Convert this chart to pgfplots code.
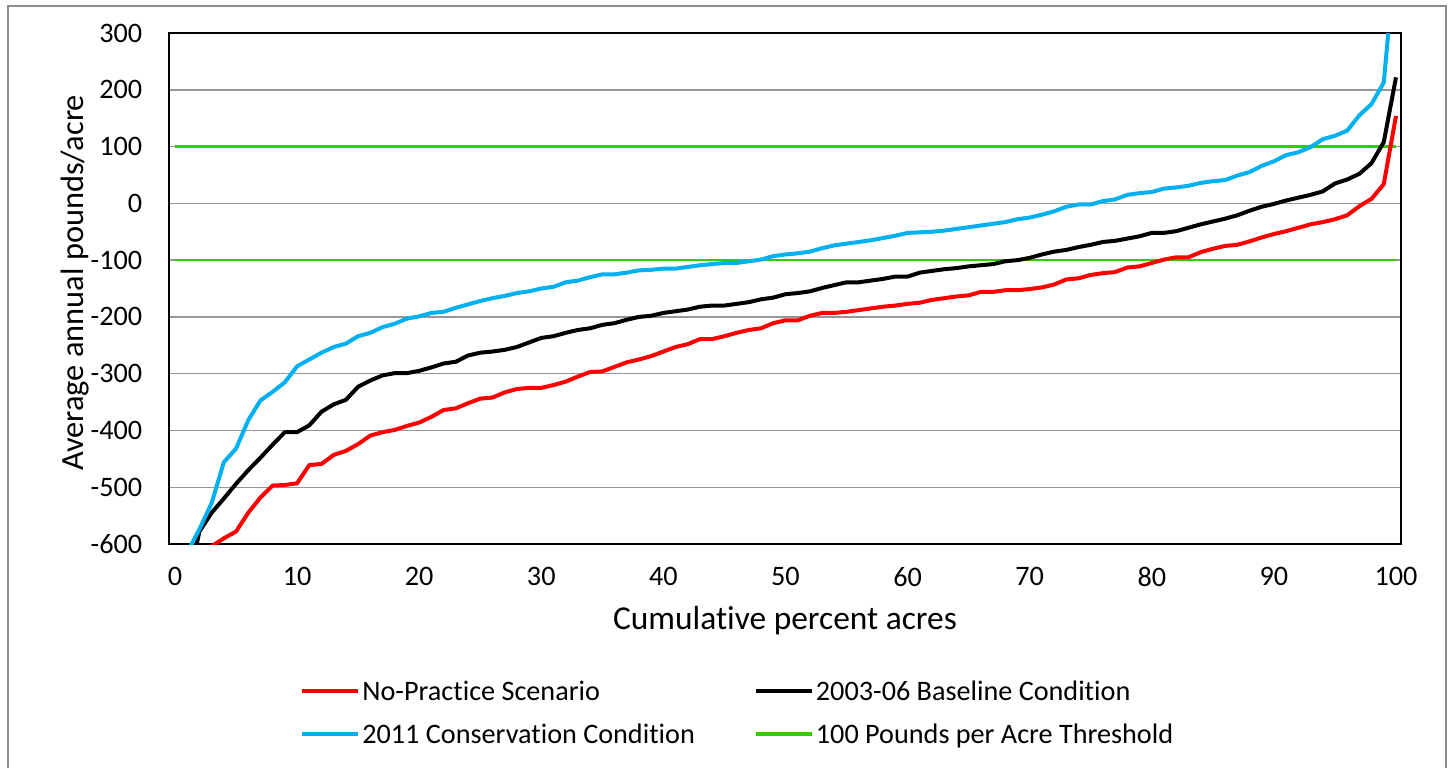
\documentclass[border=0pt]{standalone}
\usepackage{pgfplots}
\usepackage{pgfplotstable}
\pgfplotsset{compat=1.18}
\usepackage{fontspec}
\setmainfont[Ligatures=NoCommon]{Carlito}
\definecolor{cred}{RGB}{255,0,0}
\definecolor{cblue}{RGB}{0,176,240}
\definecolor{cgreen}{RGB}{51,204,0}
\definecolor{cgrid}{RGB}{150,150,150}
\definecolor{cframe}{RGB}{140,140,140}

\pgfplotstableread{
x red black blue
1 -750 -678 -615
2 -700 -578 -574
3 -604 -545 -528
4 -590 -520 -456
5 -578 -494 -432
6 -545 -470 -382
7 -518 -448 -347
8 -497 -425 -332
9 -496 -403 -315
10 -493 -403 -287
11 -461 -391 -275
12 -459 -367 -263
13 -443 -354 -253
14 -436 -346 -247
15 -424 -323 -234
16 -409 -312 -228
17 -403 -303 -218
18 -399 -299 -212
19 -392 -299 -203
20 -386 -295 -199
21 -376 -289 -193
22 -364 -282 -191
23 -361 -279 -184
24 -352 -268 -178
25 -344 -263 -172
26 -342 -261 -167
27 -333 -258 -163
28 -327 -253 -158
29 -325 -245 -155
30 -325 -237 -150
31 -320 -234 -147
32 -314 -228 -139
33 -305 -223 -136
34 -297 -220 -130
35 -296 -214 -125
36 -288 -211 -125
37 -280 -205 -122
38 -275 -200 -118
39 -269 -198 -117
40 -261 -193 -115
41 -253 -190 -115
42 -248 -187 -112
43 -239 -182 -109
44 -239 -180 -107
45 -234 -180 -105
46 -228 -177 -105
47 -223 -174 -102
48 -220 -169 -99
49 -211 -166 -93
50 -206 -160 -90
51 -206 -158 -88
52 -198 -155 -85
53 -193 -149 -79
54 -193 -144 -74
55 -191 -139 -71
56 -188 -139 -68
57 -185 -136 -65
58 -182 -133 -61
59 -180 -129 -57
60 -177 -129 -52
61 -175 -122 -51
62 -170 -119 -50
63 -167 -116 -48
64 -164 -114 -45
65 -162 -111 -42
66 -156 -109 -39
67 -156 -107 -36
68 -153 -102 -33
69 -153 -100 -28
70 -151 -96 -25
71 -148 -90 -20
72 -143 -85 -14
73 -134 -82 -6
74 -132 -77 -2
75 -126 -73 -2
76 -123 -68 4
77 -121 -66 7
78 -113 -62 15
79 -111 -58 18
80 -105 -52 20
81 -99 -52 26
82 -95 -49 28
83 -95 -43 31
84 -86 -37 36
85 -80 -32 39
86 -75 -27 41
87 -73 -21 49
88 -67 -13 55
89 -60 -6 66
90 -54 -1 74
91 -49 5 85
92 -43 10 90
93 -37 15 99
94 -33 21 113
95 -28 35 119
96 -21 42 128
97 -5 52 155
98 8 71 175
99 34 108 213
100 154 222 450
}\data

\begin{document}
\begin{tikzpicture}
\useasboundingbox (0,0) rectangle (724pt,-384pt);
\draw[cframe, line width=1pt] (4pt,-384pt) -- (4pt,-3pt) -- (723pt,-3pt) -- (723pt,-384pt);
\begin{axis}[
  at={(84.5pt,-272pt)}, anchor=south west,
  width=616pt, height=255.5pt, scale only axis,
  xmin=-0.49, xmax=100.41, ymin=-600, ymax=300,
  xtick={0,10,...,100}, ytick={-600,-500,...,300},
  xticklabels={0,10,20,30,40,50,60,70,80,90,100},
  yticklabels={-600,-500,-400,-300,-200,-100,0,100,200,300},
  major tick length=0pt,
  ymajorgrids, grid style={cgrid, line width=0.7pt},
  axis line style={black, line width=0.9pt},
  tick label style={font=\fontsize{14.1}{16}\selectfont},
  yticklabel style={anchor=east, inner sep=0pt, xshift=-13.2pt},
  xticklabel style={anchor=north, inner sep=0pt, yshift=-11.5pt},
  xlabel={Cumulative percent acres},
  ylabel={Average annual pounds/acre},
  label style={font=\fontsize{16.7}{19}\selectfont},
  xlabel style={at={(axis description cs:0.5,-0.1505)}, anchor=center},
  ylabel style={at={(axis description cs:-0.0763,0.511)}, anchor=center, font=\fontsize{16.2}{19}\selectfont},
  legend columns=2,
  legend cell align=left,
  legend style={at={(axis description cs:0.1063,-0.268)}, anchor=north west,
    draw=none, fill=none, inner sep=0pt,
    font=\fontsize{14.1}{16}\selectfont,
    nodes={inner sep=0pt},
    row sep=10pt,
    /tikz/column 1/.style={column sep=1pt},
    /tikz/column 2/.style={column sep=29.5pt},
    /tikz/column 3/.style={column sep=1pt}},
  legend image code/.code={\draw[#1] (0pt,0.8pt) -- (28pt,0.8pt);},
]
\addplot[cgreen, line width=1.25pt, forget plot] coordinates {(0,100) (100,100)};
\addplot[cgreen, line width=1.25pt, forget plot] coordinates {(0,-100) (100,-100)};
\addplot[cred, line width=2pt, line join=round] table[x=x, y=red] {\data};
\addlegendentry{No-Practice Scenario}
\addplot[black, line width=2pt, line join=round] table[x=x, y=black] {\data};
\addlegendentry{2003-06 Baseline Condition}
\addplot[cblue, line width=2pt, line join=round] table[x=x, y=blue] {\data};
\addlegendentry{2011 Conservation Condition}
\addlegendimage{cgreen, line width=2pt}
\addlegendentry{100 Pounds per Acre Threshold}
\end{axis}
\end{tikzpicture}
\end{document}
